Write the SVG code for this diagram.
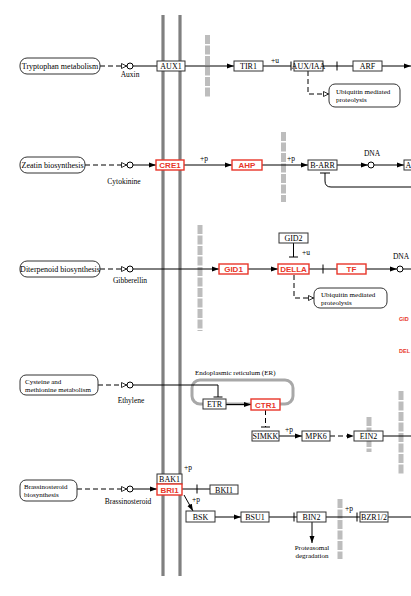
<svg xmlns="http://www.w3.org/2000/svg" width="411" height="596" viewBox="0 0 411 596">
<style>
.bg{fill:#fff}
.mem{stroke:#808080;stroke-width:3.2;fill:none}
.bar{stroke:#bdbdbd;stroke-width:5;stroke-dasharray:9,1.5;fill:none}
.er{stroke:#a8a8a8;stroke-width:3;fill:none}
.ln{stroke:#000;stroke-width:1;fill:none}
.dl{stroke:#000;stroke-width:1;fill:none;stroke-dasharray:5,3}
.box{fill:#fff;stroke:#333;stroke-width:1}
.rbox{fill:#fff;stroke:#e8362a;stroke-width:1.4}
.path{fill:#fff;stroke:#333;stroke-width:1}
.cpd{fill:#fff;stroke:#000;stroke-width:1}
.t{font-family:"Liberation Serif",serif;font-size:8px;fill:#000;text-anchor:middle}
.tl{font-family:"Liberation Serif",serif;font-size:7px;fill:#000}
.s{font-family:"Liberation Serif",serif;font-size:7.5px;fill:#000;text-anchor:middle}
.s2{font-family:"Liberation Serif",serif;font-size:7px;fill:#000;text-anchor:middle}
.r{font-family:"Liberation Sans",Arial,sans-serif;font-size:8px;font-weight:bold;fill:#e8362a;text-anchor:middle}
.rs{font-family:"Liberation Sans",Arial,sans-serif;font-size:5.5px;font-weight:bold;fill:#e8362a}
</style>
<defs>
<marker id="a" markerWidth="7" markerHeight="6" refX="7" refY="3" orient="auto" markerUnits="userSpaceOnUse"><path d="M0,0.5 L7,3 L0,5.5z" fill="#000"/></marker>
<marker id="o" markerWidth="6" markerHeight="6" refX="6" refY="3" orient="auto" markerUnits="userSpaceOnUse"><path d="M0.5,0.5 L5.5,3 L0.5,5.5z" fill="#fff" stroke="#000" stroke-width="0.8"/></marker>
</defs>
<rect class="bg" x="0" y="0" width="411" height="596"/>

<g id="membranes">
<line class="mem" x1="163" y1="15" x2="163" y2="576"/>
<line class="mem" x1="180" y1="15" x2="180" y2="576"/>
<line class="bar" x1="207.5" y1="35" x2="207.5" y2="98"/>
<line class="bar" x1="283.5" y1="132" x2="283.5" y2="202"/>
<line class="bar" x1="200" y1="225" x2="200" y2="331"/>
<line class="bar" x1="369" y1="417" x2="369" y2="452"/>
<line class="bar" x1="401" y1="391" x2="401" y2="475"/>
<line class="bar" x1="340" y1="499" x2="340" y2="559"/>
<rect class="er" x="192" y="380" width="101" height="24" rx="8"/>
<text class="tl" x="195" y="375">Endoplasmic reticulum (ER)</text>
</g>

<g id="connectors">
<line class="dl" x1="100" y1="66" x2="127" y2="66" marker-end="url(#o)"/>
<line class="ln" x1="133" y1="66" x2="157" y2="66"/>
<line class="ln" x1="185" y1="66" x2="234" y2="66" marker-end="url(#a)"/>
<line class="ln" x1="263" y1="66" x2="291" y2="66"/>
<line class="ln" x1="291" y1="61.5" x2="291" y2="70.5"/>
<line class="ln" x1="323" y1="66" x2="353" y2="66"/>
<line class="ln" x1="337" y1="61.5" x2="337" y2="70.5"/>
<line class="ln" x1="382" y1="66" x2="411" y2="66" marker-end="url(#a)"/>
<path class="dl" d="M308,71 V94 H329" marker-end="url(#o)"/>
<line class="dl" x1="85" y1="165" x2="127" y2="165" marker-end="url(#o)"/>
<line class="ln" x1="133" y1="165" x2="156" y2="165" marker-end="url(#a)"/>
<line class="ln" x1="184" y1="165" x2="232" y2="165" marker-end="url(#a)"/>
<line class="ln" x1="262" y1="165" x2="308" y2="165" marker-end="url(#a)"/>
<line class="ln" x1="337" y1="165" x2="368" y2="165" marker-end="url(#a)"/>
<line class="ln" x1="374" y1="165" x2="404" y2="165" marker-end="url(#a)"/>
<path class="ln" d="M411,187 H331 Q325,187 325,181 V173"/>
<line class="ln" x1="320" y1="173" x2="330" y2="173"/>
<line class="dl" x1="100" y1="269" x2="127" y2="269" marker-end="url(#o)"/>
<line class="ln" x1="133" y1="269" x2="219" y2="269" marker-end="url(#a)"/>
<line class="ln" x1="248" y1="269" x2="278" y2="269" marker-end="url(#a)"/>
<line class="ln" x1="293.5" y1="243" x2="293.5" y2="257"/>
<line class="ln" x1="289" y1="257" x2="298" y2="257"/>
<line class="ln" x1="309" y1="269" x2="337" y2="269"/>
<line class="ln" x1="323" y1="264.5" x2="323" y2="273.5"/>
<line class="ln" x1="366" y1="269" x2="397" y2="269" marker-end="url(#a)"/>
<line class="ln" x1="403" y1="269" x2="411" y2="269"/>
<path class="dl" d="M294,275 V298 H314" marker-end="url(#o)"/>
<line class="dl" x1="98" y1="385" x2="127" y2="385" marker-end="url(#o)"/>
<path class="ln" d="M133,385 H218 V397"/>
<line class="ln" x1="213.5" y1="397" x2="222.5" y2="397"/>
<line class="ln" x1="226" y1="404.5" x2="251" y2="404.5" marker-end="url(#a)"/>
<line class="dl" x1="265.5" y1="410" x2="265.5" y2="427" stroke-dasharray="4,3"/>
<line class="ln" x1="261" y1="427" x2="270" y2="427"/>
<line class="ln" x1="279" y1="436" x2="302" y2="436" marker-end="url(#a)"/>
<line class="dl" x1="330" y1="436" x2="354" y2="436" marker-end="url(#a)"/>
<line class="ln" x1="383" y1="436" x2="411" y2="436"/>
<line class="dl" x1="77" y1="489" x2="127" y2="489" marker-end="url(#o)"/>
<line class="ln" x1="133" y1="489" x2="157" y2="489" marker-end="url(#a)"/>
<line class="ln" x1="182" y1="489" x2="210" y2="489"/>
<line class="ln" x1="197" y1="484.5" x2="197" y2="493.5"/>
<line class="ln" x1="184" y1="495" x2="193" y2="511" marker-end="url(#a)"/>
<line class="ln" x1="215" y1="517" x2="241" y2="517" marker-end="url(#a)"/>
<line class="ln" x1="269" y1="517" x2="297" y2="517"/>
<line class="ln" x1="294" y1="512.5" x2="294" y2="521.5"/>
<line class="ln" x1="312" y1="522" x2="312" y2="543" marker-end="url(#a)"/>
<line class="ln" x1="326" y1="517" x2="360" y2="517"/>
<line class="ln" x1="357" y1="512.5" x2="357" y2="521.5"/>
<line class="ln" x1="388" y1="517" x2="411" y2="517"/>
</g>

<g id="labels">
<text class="s" x="130" y="77">Auxin</text>
<text class="s" x="275" y="63">+u</text>
<text class="s" x="124" y="184">Cytokinine</text>
<text class="s" x="204" y="161">+p</text>
<text class="s" x="291" y="161">+p</text>
<text class="s" x="372" y="156">DNA</text>
<text class="s" x="130" y="283">Gibberellin</text>
<text class="s" x="306" y="255">+u</text>
<text class="s" x="401" y="259">DNA</text>
<text class="s" x="131" y="403">Ethylene</text>
<text class="s" x="289" y="432">+p</text>
<text class="s" x="128" y="504">Brassinosteroid</text>
<text class="s" x="188" y="470">+p</text>
<text class="s" x="196" y="502">+p</text>
<text class="s" x="349" y="511">+p</text>
<text class="s2" x="312" y="550">Proteasomal</text>
<text class="s2" x="312" y="558">degradation</text>
<text class="rs" x="399" y="321">GID</text>
<text class="rs" x="399" y="353">DEL</text>
</g>

<g id="tryptophan"><rect class="path" x="20" y="58" width="80" height="16" rx="7"/><text class="t" x="60" y="69">Tryptophan metabolism</text></g>
<g id="auxin"><circle class="cpd" cx="130" cy="66" r="3"/></g>
<g id="aux1"><rect class="box" x="157" y="61" width="28" height="10"/><text class="t" x="171" y="69">AUX1</text></g>
<g id="tir1"><rect class="box" x="234" y="61" width="29" height="10"/><text class="t" x="248.5" y="69">TIR1</text></g>
<g id="auxiaa"><rect class="box" x="294" y="61" width="29" height="10"/><text class="t" x="308.5" y="69">AUX/IAA</text></g>
<g id="arf"><rect class="box" x="353" y="61" width="29" height="10"/><text class="t" x="367.5" y="69">ARF</text></g>
<g id="ubi1"><rect class="path" x="329" y="84" width="71" height="23" rx="6"/><text class="tl" x="336" y="94">Ubiquitin mediated</text><text class="tl" x="336" y="101.5">proteolysis</text></g>

<g id="zeatin"><rect class="path" x="20" y="157" width="65" height="16" rx="7"/><text class="t" x="52.5" y="168">Zeatin biosynthesis</text></g>
<g id="cytokinine"><circle class="cpd" cx="130" cy="165" r="3"/></g>
<g id="cre1"><rect class="rbox" x="156" y="160" width="28" height="10"/><text class="r" x="170" y="168.3">CRE1</text></g>
<g id="ahp"><rect class="rbox" x="232" y="160" width="30" height="10"/><text class="r" x="247" y="168.3">AHP</text></g>
<g id="barr"><rect class="box" x="308" y="160" width="29" height="10"/><text class="t" x="322.5" y="168">B-ARR</text></g>
<g id="dna1"><circle class="cpd" cx="371" cy="165" r="3"/></g>
<g id="arr"><rect class="box" x="404" y="160" width="20" height="10"/><text class="t" x="408.5" y="168">A</text></g>

<g id="diterpenoid"><rect class="path" x="20" y="261" width="80" height="16" rx="7"/><text class="t" x="60" y="272">Diterpenoid biosynthesis</text></g>
<g id="gibberellin"><circle class="cpd" cx="130" cy="269" r="3"/></g>
<g id="gid1"><rect class="rbox" x="219" y="264" width="29" height="10"/><text class="r" x="233.5" y="272.3">GID1</text></g>
<g id="della"><rect class="rbox" x="278" y="264" width="31" height="10"/><text class="r" x="293.5" y="272.3">DELLA</text></g>
<g id="gid2"><rect class="box" x="279" y="233" width="29" height="10"/><text class="t" x="293.5" y="241">GID2</text></g>
<g id="tf"><rect class="rbox" x="337" y="264" width="29" height="10"/><text class="r" x="351.5" y="272.3">TF</text></g>
<g id="dna2"><circle class="cpd" cx="400" cy="269" r="3"/></g>
<g id="ubi2"><rect class="path" x="314" y="288" width="73" height="20" rx="6"/><text class="tl" x="321" y="297">Ubiquitin mediated</text><text class="tl" x="321" y="304.5">proteolysis</text></g>

<g id="cysteine"><rect class="path" x="20" y="375" width="78" height="20" rx="6"/><text class="tl" x="25" y="384">Cysteine and</text><text class="tl" x="25" y="391.5">methionine metabolism</text></g>
<g id="ethylene"><circle class="cpd" cx="130" cy="385" r="3"/></g>
<g id="etr"><rect class="box" x="203" y="399" width="23" height="10"/><text class="t" x="214.5" y="407">ETR</text></g>
<g id="ctr1"><rect class="rbox" x="251" y="399" width="29" height="11"/><text class="r" x="265.5" y="407.8">CTR1</text></g>
<g id="simkk"><rect class="box" x="252" y="431" width="27" height="10"/><text class="t" x="265.5" y="439">SIMKK</text></g>
<g id="mpk6"><rect class="box" x="302" y="431" width="28" height="10"/><text class="t" x="316" y="439">MPK6</text></g>
<g id="ein2"><rect class="box" x="354" y="431" width="29" height="10"/><text class="t" x="368.5" y="439">EIN2</text></g>

<g id="brassino"><rect class="path" x="20" y="480" width="57" height="21" rx="6"/><text class="tl" x="24" y="489">Brassinosteroid</text><text class="tl" x="24" y="496.5">biosynthesis</text></g>
<g id="brassinosteroid"><circle class="cpd" cx="130" cy="489" r="3"/></g>
<g id="bak1"><rect class="box" x="157" y="474" width="25" height="10"/><text class="t" x="169.5" y="482">BAK1</text></g>
<g id="bri1"><rect class="rbox" x="157" y="484" width="25" height="11"/><text class="r" x="169.5" y="492.8">BRI1</text></g>
<g id="bki1"><rect class="box" x="210" y="485" width="28" height="9"/><text class="t" x="224" y="492.5">BKI1</text></g>
<g id="bsk"><rect class="box" x="186" y="511" width="29" height="11"/><text class="t" x="200.5" y="519.5">BSK</text></g>
<g id="bsu1"><rect class="box" x="241" y="512" width="28" height="10"/><text class="t" x="255" y="520">BSU1</text></g>
<g id="bin2"><rect class="box" x="297" y="512" width="29" height="10"/><text class="t" x="311.5" y="520">BIN2</text></g>
<g id="bzr"><rect class="box" x="360" y="512" width="28" height="10"/><text class="t" x="374" y="520">BZR1/2</text></g>
</svg>
